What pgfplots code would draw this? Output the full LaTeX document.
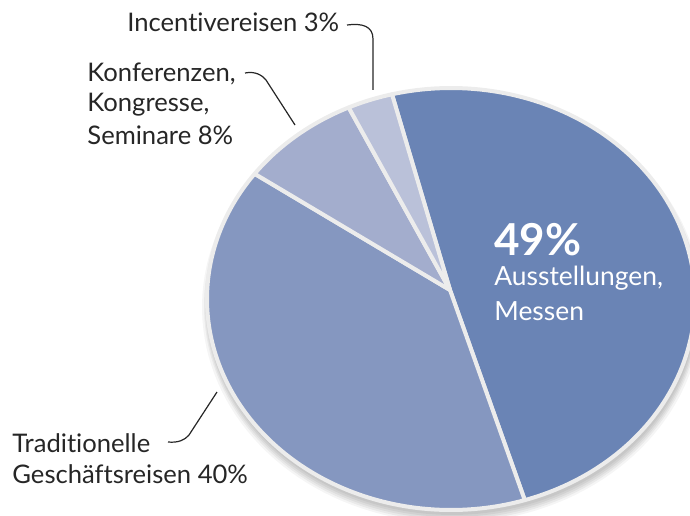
\documentclass[border=0pt]{standalone}
\usepackage{pgfplots}
\pgfplotsset{compat=1.18}
\usepackage{fontspec}
\setmainfont{Lato}[Ligatures={NoCommon,NoRare}]
\definecolor{cA}{HTML}{6A84B5}
\definecolor{cB}{HTML}{8597C0}
\definecolor{cC}{HTML}{A3ADCD}
\definecolor{cD}{HTML}{BAC1D9}
\definecolor{bord}{HTML}{ECECEC}
\definecolor{txt}{HTML}{262626}
% shares in percent
\def\vA{49}\def\vB{40}\def\vC{8}\def\vD{3}
\pgfmathsetmacro{\tA}{104}
\pgfmathsetmacro{\tB}{\tA-\vA*3.6}
\pgfmathsetmacro{\tC}{\tB-\vB*3.6}
\pgfmathsetmacro{\tD}{\tC-\vC*3.6}
\pgfmathsetmacro{\tE}{\tD-\vD*3.6}
\begin{document}
\begin{tikzpicture}
\begin{axis}[scale only axis, width=345pt, height=257.5pt,
  xmin=0, xmax=690, ymin=0, ymax=515, hide axis, clip=true]
% shadow
\addplot[fill=black, fill opacity=0.05, draw=none, domain=0:360, samples=150] ({452+245*cos(x)},{212+212*sin(x)}) -- cycle;
\addplot[fill=black, fill opacity=0.05, draw=none, domain=0:360, samples=150] ({452+246*cos(x)},{211+213*sin(x)}) -- cycle;
\addplot[fill=black, fill opacity=0.05, draw=none, domain=0:360, samples=150] ({452+247*cos(x)},{210+214*sin(x)}) -- cycle;
\addplot[fill=black, fill opacity=0.05, draw=none, domain=0:360, samples=150] ({452+248*cos(x)},{209+215*sin(x)}) -- cycle;
\addplot[fill=black, fill opacity=0.04, draw=none, domain=0:360, samples=150] ({452+250*cos(x)},{208+216*sin(x)}) -- cycle;
% sectors
\addplot[fill=cA, draw=bord, line width=2pt, line join=round, domain=\tB:\tA, samples=120] ({451+244*cos(x)},{216+211*sin(x)}) -- (axis cs:450,225) -- cycle;
\addplot[fill=cB, draw=bord, line width=2pt, line join=round, domain=\tC:\tB, samples=120] ({451+244*cos(x)},{216+211*sin(x)}) -- (axis cs:450,225) -- cycle;
\addplot[fill=cC, draw=bord, line width=2pt, line join=round, domain=\tD:\tC, samples=40] ({451+244*cos(x)},{216+211*sin(x)}) -- (axis cs:450,225) -- cycle;
\addplot[fill=cD, draw=bord, line width=2pt, line join=round, domain=\tE:\tD, samples=20] ({451+244*cos(x)},{216+211*sin(x)}) -- (axis cs:450,225) -- cycle;
% labels
\node[anchor=base west, text=white, font=\fontsize{22}{26}\selectfont\bfseries, inner sep=0] at (axis cs:494,260) {49\%};
\node[anchor=base west, text=white, font=\fontsize{13.2}{15}\selectfont, inner sep=0] at (axis cs:494,230) {Ausstellungen,};
\node[anchor=base west, text=white, font=\fontsize{13.2}{15}\selectfont, inner sep=0] at (axis cs:494,195) {Messen};
\node[anchor=base west, text=txt, font=\fontsize{12.8}{15}\selectfont, inner sep=0] at (axis cs:127,483) {Incentivereisen 3\%};
\node[anchor=base west, text=txt, font=\fontsize{12.8}{15}\selectfont, inner sep=0] at (axis cs:87,433) {Konferenzen,};
\node[anchor=base west, text=txt, font=\fontsize{12.8}{15}\selectfont, inner sep=0] at (axis cs:87,403) {Kongresse,};
\node[anchor=base west, text=txt, font=\fontsize{12.8}{15}\selectfont, inner sep=0] at (axis cs:87,370) {Seminare 8\%};
\node[anchor=base west, text=txt, font=\fontsize{12.8}{15}\selectfont, inner sep=0] at (axis cs:12,63) {Traditionelle};
\node[anchor=base west, text=txt, font=\fontsize{12.8}{15}\selectfont, inner sep=0] at (axis cs:12,32) {Geschäftsreisen 40\%};
% leader lines
\draw[txt, line width=0.6pt] (axis cs:347,490) .. controls (axis cs:362,492) and (axis cs:373,489) .. (axis cs:373,476) -- (axis cs:373,425);
\draw[txt, line width=0.6pt] (axis cs:245,442) .. controls (axis cs:255,444) and (axis cs:262,440) .. (axis cs:266,435) -- (axis cs:295,390);
\draw[txt, line width=0.6pt] (axis cs:168,73) .. controls (axis cs:178,72) and (axis cs:185,75) .. (axis cs:189,80) -- (axis cs:217,123);
\end{axis}
\pgfresetboundingbox
\path[use as bounding box] (current axis.south west) rectangle (current axis.north east);
\end{tikzpicture}
\end{document}
